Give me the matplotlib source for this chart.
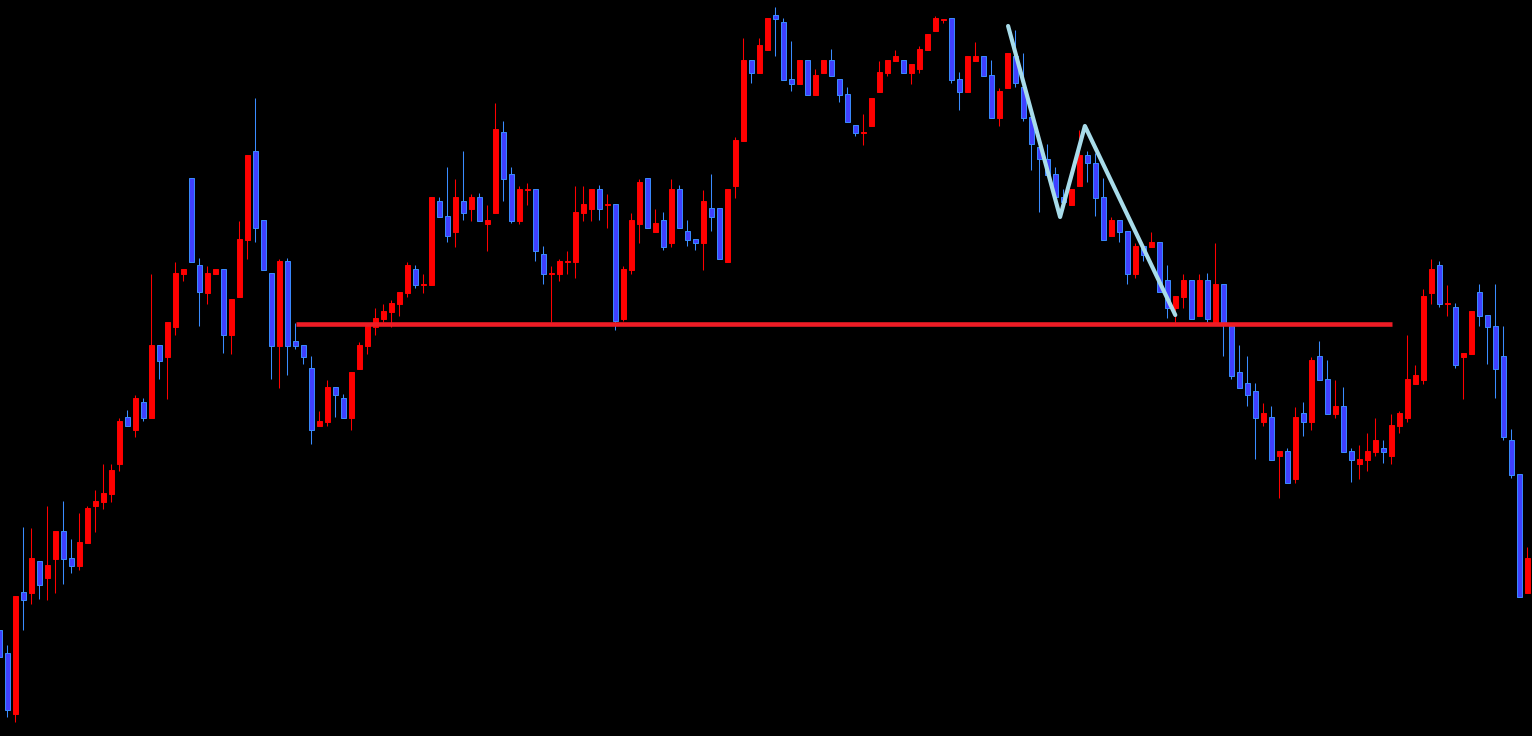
# candlestick chart with a support line and a zigzag
import matplotlib
matplotlib.use('Agg')
import matplotlib.pyplot as plt
from matplotlib.patches import Rectangle

out_path = 'out.png'

# OHLC (screen units, smaller = higher price)
opens = [630, 653, 714, 592, 593, 561, 578, 559, 531, 558, 566, 543, 506, 502, 494, 464,
         417, 430, 402, 418, 345, 357, 327, 274, 178, 265, 293, 274, 269, 335, 297, 240,
         151, 220, 273, 346, 261, 341, 345, 368, 426, 422, 387, 398, 418, 369, 346, 327,
         319, 312, 304, 293, 269, 284.5, 285, 201, 216, 232, 201, 209, 197, 224, 213, 132,
         174, 221, 189.5, 189, 254, 273.5, 274, 261.5, 262, 213, 209, 189, 204.5, 204, 319, 270,
         224, 178, 232, 220, 243, 189, 231, 239, 243, 208, 208, 262, 186, 141, 60, 73,
         50, 15, 22, 79, 84, 60, 95, 73, 60, 79, 94, 125, 132.5, 126, 92, 73,
         61, 60, 73, 69, 50, 31, 19.5, 18, 79, 92, 61, 56, 75, 118, 88, 56,
         87, 117, 147, 159, 174, 197, 205, 186, 155, 163, 197, 236, 220, 231, 274, 246,
         247, 242, 280, 308, 297, 280, 316, 280, 322, 284, 326, 372, 383, 391, 422, 417,
         456, 451, 479, 413, 422, 356, 379, 414, 406, 451, 464, 460, 452, 448, 456, 426,
         418, 384, 380, 293, 265, 303.5, 307, 357, 354, 292, 315, 326, 356, 440, 474, 593]
highs = [630, 645, 596, 527, 528, 561, 506, 531, 501, 539, 513, 506, 490, 464, 464, 418,
         410, 395, 398, 274, 345, 322, 262, 269, 178, 258, 266, 269, 269, 299, 221, 155,
         98, 220, 273, 259, 258, 323, 345, 356, 411, 380, 387, 394, 372, 342, 326, 308,
         304, 300, 292, 262, 265, 274, 197, 197, 167, 179, 151, 194, 193, 205, 103, 121,
         167, 186, 183, 189, 246, 266, 259, 251, 186, 186, 189, 185, 194, 204, 266, 213,
         179, 178, 209, 212, 179, 185, 220, 239, 190, 174, 208, 189, 137, 38, 60, 38,
         18, 7, 18, 41, 60, 60, 69, 60, 49, 79, 87, 125, 114, 98, 61, 60,
         50, 60, 64, 46, 34, 16, 19, 18, 72, 56, 42, 56, 60, 88, 53, 30,
         53, 117, 147, 144, 167, 189, 189, 130, 151, 153, 178, 217, 220, 231, 243, 246,
         232, 242, 265, 296, 274, 280, 274, 273, 243, 284, 326, 345, 356, 383, 403, 406,
         451, 448, 407, 402, 357, 341, 360, 380, 387, 448, 445, 433, 418, 440, 414, 411,
         335, 365, 289, 259, 261, 285, 303, 353, 311, 284, 315, 284, 326, 429, 474, 547]
lows = [657, 717, 722, 630, 604, 599, 600, 593, 584, 573, 570, 543, 532, 509, 502, 471,
        426, 437, 421, 418, 379, 399, 335, 281, 262, 326, 304, 274, 353, 354, 297, 259,
        242, 270, 379, 388, 375, 349, 364, 444, 426, 426, 417, 418, 430, 369, 354, 335,
        322, 327, 316, 297, 288, 293, 285, 217, 242, 247, 220, 221, 221, 251, 213, 201,
        223, 224, 205, 261, 284, 322, 281, 274, 278, 221, 221, 220, 228, 330, 321, 274,
        243, 228, 232, 250, 247, 228, 246, 250, 270, 231, 259, 262, 198, 141, 83, 73,
        50, 56, 80, 91, 84, 95, 95, 73, 76, 102, 122, 136, 145, 126, 92, 76,
        61, 73, 84, 73, 50, 31, 23, 83, 110, 92, 61, 76, 118, 126, 88, 87,
        121, 170, 212, 175, 197, 202, 205, 186, 182, 216, 240, 236, 242, 284, 278, 261,
        247, 292, 318, 322, 308, 319, 316, 322, 322, 356, 379, 388, 406, 459, 426, 460,
        498, 483, 483, 436, 430, 380, 414, 418, 452, 482, 479, 471, 456, 463, 464, 433,
        422, 384, 384, 304, 307, 316, 368, 399, 354, 326, 364, 398, 440, 478, 597, 593]
closes = [657, 710, 596, 600, 558, 585, 565, 531, 559, 566, 542, 508, 501, 493, 470, 421,
          426, 398, 418, 345, 361, 322, 273, 269, 262, 292, 273, 269, 335, 299, 239, 155,
          228, 270, 346, 261, 346, 346, 357, 430, 421, 387, 395, 418, 372, 345, 326, 318,
          311, 303, 292, 265, 285, 284, 197, 217, 236, 197, 213, 197, 221, 220, 129, 179,
          221, 189, 189, 251, 274, 273, 261, 261, 212, 204, 189, 209, 204, 321, 269, 220,
          182, 228, 223, 247, 189, 228, 240, 243, 201, 217, 259, 189, 140, 60, 73, 45,
          18, 19, 80, 84, 60, 95, 75, 60, 76, 95, 122, 133, 132, 98, 72, 60,
          56, 73, 64, 49, 34, 18, 19, 80, 92, 56, 56, 76, 118, 91, 53, 83,
          118, 144, 159, 175, 197, 202, 189, 155, 163, 198, 240, 220, 232, 274, 246, 255,
          242, 292, 308, 296, 280, 319, 280, 319, 284, 325, 376, 388, 395, 418, 413, 460,
          451, 483, 417, 422, 360, 380, 414, 406, 452, 460, 459, 451, 440, 452, 425, 413,
          379, 375, 296, 269, 304, 303, 365, 353, 311, 316, 327, 369, 437, 475, 597, 558]

# support line and zigzag (candle index, level)
support_x = [37.1, 174.1]
support_y = [323.5, 323.5]
zigzag_x = [126.1, 132.6, 135.7, 147.0]
zigzag_y = [26, 217, 126, 315]

up_color = '#ff0000'
down_face = '#4040ff'
down_edge = '#3a8cff'


def draw_candles(ax):
    for i, (o, h, l, c) in enumerate(zip(opens, highs, lows, closes)):
        if c <= o:  # price went up (screen units are inverted)
            face, edge = up_color, up_color
        else:
            face, edge = down_face, down_edge
        ax.plot([i, i], [h, l], color=edge, lw=0.75, solid_capstyle='butt', zorder=2)
        bottom = min(o, c)
        height = max(abs(c - o), 1.2)
        ax.add_patch(Rectangle((i - 0.3, bottom), 0.6, height,
                               facecolor=face, edgecolor=edge, lw=0.7, zorder=3))


def draw_plt():
    fig = plt.figure(figsize=(15.32, 7.36), dpi=100, facecolor='black')
    ax = fig.add_axes([0, 0, 1, 1])
    ax.set_facecolor('black')
    draw_candles(ax)
    ax.plot(support_x, support_y, color='#ee1c25', lw=3.3, solid_capstyle='butt', zorder=4)
    ax.plot(zigzag_x, zigzag_y, color='#a8dcea', lw=3.0, solid_joinstyle='round',
            solid_capstyle='round', zorder=5)
    ax.set_xlim(0.0875, 191.59)
    ax.set_ylim(736, 0)
    ax.axis('off')
    fig.savefig(out_path, facecolor='black')


if __name__ == '__main__':
    draw_plt()
